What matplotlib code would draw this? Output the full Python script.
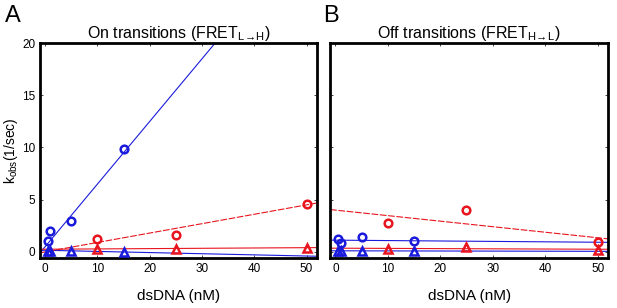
import numpy as np
import matplotlib
matplotlib.use('Agg')
import matplotlib.pyplot as plt

plt.rcParams['font.family'] = ['Liberation Sans', 'DejaVu Sans']

BLUE = '#1a1adc'
RED = '#e8141e'

# 面板 A：On transitions
on_blue_circ_x = [0.5, 1, 5, 15]
on_blue_circ_y = [1.0, 1.95, 3.0, 9.9]
on_blue_tri_x = [0.5, 1, 5, 15]
on_blue_tri_y = [0.1, 0.1, 0.1, -0.05]
on_red_circ_x = [10, 25, 50]
on_red_circ_y = [1.2, 1.6, 4.6]
on_red_tri_x = [10, 25, 50]
on_red_tri_y = [0.25, 0.3, 0.4]

# 面板 B：Off transitions
off_blue_circ_x = [0.5, 1, 5, 15]
off_blue_circ_y = [1.25, 0.85, 1.4, 1.05]
off_blue_tri_x = [0.5, 1, 5, 15]
off_blue_tri_y = [0.1, 0.1, 0.05, 0.05]
off_red_circ_x = [10, 25, 50]
off_red_circ_y = [2.8, 4.0, 0.95]
off_red_tri_x = [10, 25, 50]
off_red_tri_y = [0.3, 0.5, 0.2]

# 拟合线 (斜率, 截距)
on_fits = {'blue_circ': (0.6, 0.5), 'blue_tri': (-0.011, 0.15),
           'red_circ': (0.09, 0.0), 'red_tri': (0.003, 0.25)}
off_fits = {'blue_circ': (-0.004, 1.12), 'blue_tri': (-0.001, 0.1),
            'red_circ': (-0.053, 4.0), 'red_tri': (-0.002, 0.35)}

XLIM = (-1, 52)
YLIM = (-0.6, 20)


def draw_panel(ax, data, fits):
    xs = np.array(XLIM)
    (bcx, bcy), (btx, bty), (rcx, rcy), (rtx, rty) = data
    styles = {
        'blue_circ': (BLUE, '-'),
        'blue_tri': (BLUE, '-'),
        'red_circ': (RED, (0, (6, 1.5))),
        'red_tri': (RED, '-'),
    }
    for key, (m, b) in fits.items():
        color, ls = styles[key]
        ax.plot(xs, m * xs + b, color=color, linestyle=ls, linewidth=0.8, zorder=2)

    ax.plot(bcx, bcy, 'o', mfc='none', mec=BLUE, mew=1.8, ms=5.5, zorder=3)
    ax.plot(btx, bty, '^', mfc='none', mec=BLUE, mew=1.8, ms=5.5, zorder=3)
    ax.plot(rcx, rcy, 'o', mfc='none', mec=RED, mew=1.8, ms=5.5, zorder=3)
    ax.plot(rtx, rty, '^', mfc='none', mec=RED, mew=1.8, ms=5.5, zorder=3)

    ax.set_xlim(*XLIM)
    ax.set_ylim(*YLIM)
    ax.set_xticks([0, 10, 20, 30, 40, 50])
    ax.set_yticks([0, 5, 10, 15, 20])
    ax.tick_params(direction='in', length=2.5, width=0.5, top=True, right=True,
                   labelsize=8.5, pad=3.5)
    for sp in ax.spines.values():
        sp.set_linewidth(2)
    ax.set_xlabel('dsDNA (nM)', fontsize=11, labelpad=10)


fig = plt.figure(figsize=(6.17, 3.08), dpi=100)
ax1 = fig.add_axes([0.0648, 0.162, 0.449, 0.698])
ax2 = fig.add_axes([0.535, 0.162, 0.4506, 0.698])

draw_panel(ax1, [(on_blue_circ_x, on_blue_circ_y), (on_blue_tri_x, on_blue_tri_y),
                 (on_red_circ_x, on_red_circ_y), (on_red_tri_x, on_red_tri_y)], on_fits)
draw_panel(ax2, [(off_blue_circ_x, off_blue_circ_y), (off_blue_tri_x, off_blue_tri_y),
                 (off_red_circ_x, off_red_circ_y), (off_red_tri_x, off_red_tri_y)], off_fits)
ax2.set_yticklabels([])

ax1.set_ylabel(r'k$_{\mathregular{obs}}$(1/sec)', fontsize=10, labelpad=1.5)
ax1.set_title(r'On transitions (FRET$_{\mathregular{L\!\rightarrow\!H}}$)', fontsize=11.5, pad=4)
ax2.set_title(r'Off transitions (FRET$_{\mathregular{H\!\rightarrow\!L}}$)', fontsize=11.5, pad=4)

fig.text(0.008, 0.985, 'A', fontsize=17, va='top')
fig.text(0.523, 0.985, 'B', fontsize=17, va='top')

fig.savefig('out.png', dpi=100)
plt.close(fig)
